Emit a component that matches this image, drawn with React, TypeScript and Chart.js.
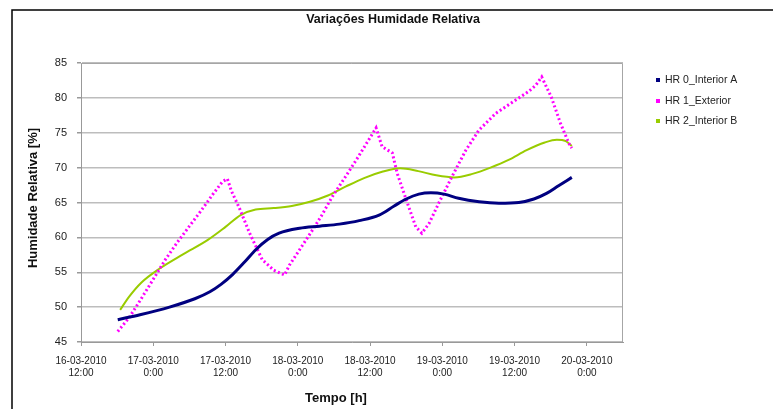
import React, { useEffect, useRef } from "react";
import { Chart, registerables } from "chart.js";

Chart.register(...registerables);

const chartTitle = "Variações Humidade Relativa";
const xAxisTitle = "Tempo [h]";
const yAxisTitle = "Humidade Relativa [%]";
const seriesNames = ["HR 0_Interior A", "HR 1_Exterior", "HR 2_Interior B"];

// x in hours since 16-03-2010 12:00
const xTickHours = [0, 12, 24, 36, 48, 60, 72, 84];
const xTickDates = ["16-03-2010", "17-03-2010", "17-03-2010", "18-03-2010", "18-03-2010", "19-03-2010", "19-03-2010", "20-03-2010"];
const xTickTimes = ["12:00", "0:00", "12:00", "0:00", "12:00", "0:00", "12:00", "0:00"];
const yMin = 45;
const yMax = 85;
const yStep = 5;

const hr0Hours = [6.1, 9.8, 14.7, 18.9, 21.4, 23.3, 25.2, 27.2, 29.1, 31, 32.9, 36.3, 39.6, 42.9, 46.2, 49.5, 52, 54, 56.1, 58.1, 60.3, 62.7, 66.1, 69.4, 72.7, 75.2, 77.3, 79.3, 81.5];
const hr0Values = [48.2, 48.9, 50, 51.2, 52.2, 53.3, 54.7, 56.5, 58.3, 59.7, 60.6, 61.3, 61.6, 61.9, 62.4, 63.2, 64.5, 65.5, 66.2, 66.4, 66.2, 65.6, 65.1, 64.9, 65, 65.5, 66.3, 67.4, 68.6];

const hr1Hours = [6.1, 8, 10, 12, 14, 16, 18, 20, 22, 23.5, 24.3, 25, 26.3, 28, 30.1, 32, 33.8, 34.6, 36.5, 38.4, 40, 41.7, 44, 46, 47.5, 49, 50, 51.7, 52.5, 54, 55.6, 56.6, 57.8, 59.4, 61.6, 63.9, 66.1, 68.9, 71.5, 74.3, 75.5, 76.5, 78.1, 79.6, 81, 81.5];
const hr1Values = [46.5, 48.5, 51.2, 54, 56.8, 59.3, 61.6, 63.9, 66.3, 68, 68.4, 66.6, 64.2, 60.6, 56.8, 55.3, 54.6, 56, 58.5, 61, 63.2, 65.8, 68.8, 71.5, 73.6, 75.7, 73, 72.1, 69.2, 65.4, 61.5, 60.6, 62, 64.9, 68.7, 72.5, 75.4, 77.8, 79.3, 80.9, 81.8, 83, 80.1, 76.4, 73.5, 72.8];

const hr2Hours = [6.5, 8, 10, 13, 17, 21, 24, 26.5, 29, 32, 35, 38, 41, 44, 47, 50, 53, 56, 59, 62, 65, 68, 71, 74, 77, 79, 80.5, 81.5];
const hr2Values = [49.6, 51.5, 53.5, 55.5, 57.6, 59.6, 61.5, 63.2, 64, 64.2, 64.5, 65.1, 66, 67.3, 68.5, 69.4, 69.9, 69.5, 68.9, 68.6, 69.1, 70, 71.1, 72.5, 73.6, 74, 73.8, 73.1];

const FONT = "'Liberation Sans', Arial, sans-serif";
const COLORS = ["#000080", "#ff00ff", "#99cc00"];

const toPoints = (hs: number[], vs: number[]) => hs.map((h, i) => ({ x: h, y: vs[i] }));

const decorPlugin = {
  id: "decor",
  afterDraw(chart: any) {
    const ctx = chart.ctx as CanvasRenderingContext2D;
    const { left, right, top, bottom } = chart.chartArea;
    ctx.save();
    // plot area border
    ctx.strokeStyle = "#a6a6a6";
    ctx.lineWidth = 1;
    ctx.beginPath();
    ctx.moveTo(left, top + 0.5);
    ctx.lineTo(right - 0.5, top + 0.5);
    ctx.lineTo(right - 0.5, bottom);
    ctx.stroke();
    // outer frame
    ctx.strokeStyle = "#000";
    ctx.lineWidth = 1.5;
    ctx.beginPath();
    ctx.moveTo(12, 409);
    ctx.lineTo(12, 10);
    ctx.lineTo(773, 10);
    ctx.stroke();
    // title
    ctx.fillStyle = "#111";
    ctx.textAlign = "center";
    ctx.textBaseline = "middle";
    ctx.font = `bold 12.5px ${FONT}`;
    ctx.fillText(chartTitle, 393, 20);
    // axis titles
    ctx.font = `bold 13px ${FONT}`;
    ctx.fillText(xAxisTitle, 336, 398);
    ctx.save();
    ctx.translate(33, 198);
    ctx.rotate(-Math.PI / 2);
    ctx.fillText(yAxisTitle, 0, 0);
    ctx.restore();
    // legend
    ctx.font = `10.5px ${FONT}`;
    ctx.textAlign = "left";
    const ys = [80, 101, 121];
    seriesNames.forEach((name, i) => {
      ctx.fillStyle = COLORS[i];
      ctx.fillRect(656, ys[i] - 2, 4, 4);
      ctx.fillStyle = "#222";
      ctx.fillText(name, 665, ys[i]);
    });
    ctx.restore();
  },
};

export default function App() {
  const ref = useRef<HTMLCanvasElement | null>(null);
  useEffect(() => {
    document.body.style.margin = "0";
    if (!ref.current) return;
    Chart.defaults.font.family = FONT;
    const chart = new Chart(ref.current, {
      type: "line",
      data: {
        datasets: [
          {
            label: seriesNames[0],
            data: toPoints(hr0Hours, hr0Values),
            borderColor: COLORS[0],
            backgroundColor: COLORS[0],
            borderWidth: 3,
            pointRadius: 0,
            cubicInterpolationMode: "monotone",
          },
          {
            label: seriesNames[1],
            data: toPoints(hr1Hours, hr1Values),
            borderColor: COLORS[1],
            backgroundColor: COLORS[1],
            borderWidth: 3,
            borderDash: [2, 2.5],
            pointRadius: 0,
            tension: 0,
          },
          {
            label: seriesNames[2],
            data: toPoints(hr2Hours, hr2Values),
            borderColor: COLORS[2],
            backgroundColor: COLORS[2],
            borderWidth: 2,
            pointRadius: 0,
            cubicInterpolationMode: "monotone",
          },
        ],
      },
      options: {
        animation: false,
        responsive: false,
        maintainAspectRatio: false,
        layout: { padding: { top: 63, right: 150, bottom: 0, left: 0 } },
        plugins: { legend: { display: false }, title: { display: false }, tooltip: { enabled: false } },
        scales: {
          x: {
            type: "linear",
            min: 0,
            max: 90,
            afterBuildTicks: (s: any) => {
              s.ticks = xTickHours.map((v) => ({ value: v }));
            },
            afterFit: (s: any) => {
              s.height = 67;
            },
            ticks: {
              autoSkip: false,
              maxRotation: 0,
              minRotation: 0,
              padding: 9,
              color: "#222",
              font: { size: 10 },
              callback: (v: any) => {
                const i = xTickHours.indexOf(Number(v));
                return i >= 0 ? [xTickDates[i], xTickTimes[i]] : "";
              },
            },
            grid: { drawOnChartArea: false, drawTicks: true, tickLength: 4, color: "#999" },
            border: { color: "#999", width: 1 },
          },
          y: {
            min: yMin,
            max: yMax,
            afterFit: (s: any) => {
              s.width = 81;
            },
            ticks: { stepSize: yStep, padding: 10, color: "#222", font: { size: 11 } },
            grid: { color: "#bdbdbd", lineWidth: 1.5, tickLength: 4, tickColor: "#999" },
            border: { color: "#999", width: 1 },
          },
        },
      },
      plugins: [decorPlugin],
    });
    return () => chart.destroy();
  }, []);
  return (
    <div style={{ position: "absolute", left: 0, top: 0, width: 773, height: 409, background: "#fff" }}>
      <canvas ref={ref} width={773} height={409} style={{ width: 773, height: 409, display: "block" }} />
    </div>
  );
}
